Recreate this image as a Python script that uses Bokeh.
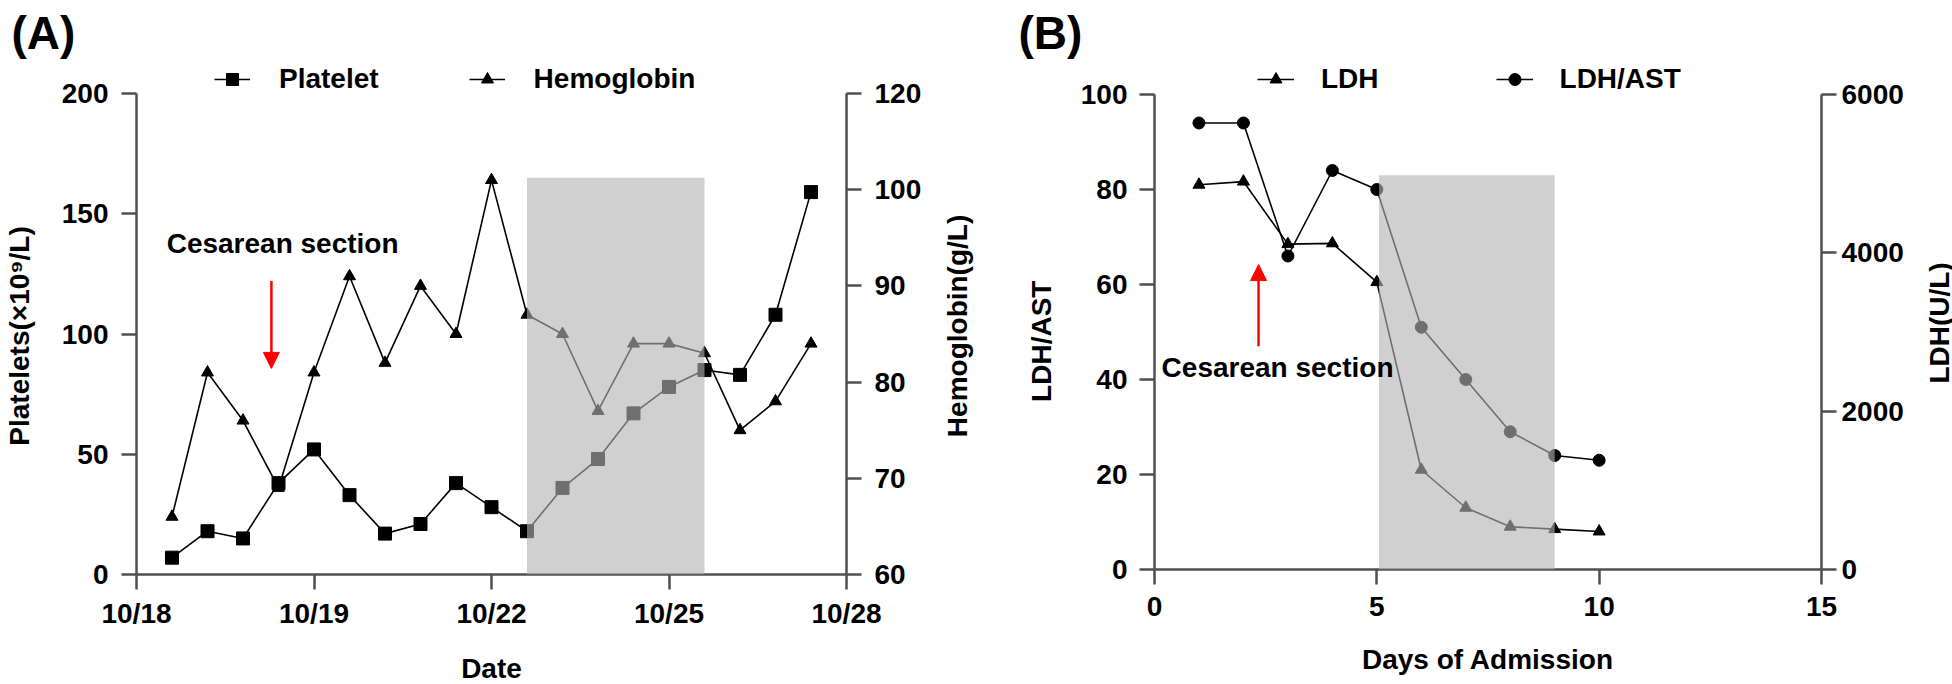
import math
from bokeh.plotting import figure
from bokeh.models import (Range1d, LinearAxis, FixedTicker, BoxAnnotation, Arrow,
                          NormalHead, Label, Legend, LegendItem)
from bokeh.layouts import row
from bokeh.embed import file_html
from bokeh.resources import INLINE

FONT = "Liberation Sans"
NBSP = "\u00a0"
PAGE_H = 684

# ---------------- Panel A data ----------------
a_x = list(range(1, 20))
platelets = [7, 18, 15, 38, 52, 33, 17, 21, 38, 28, 18, 36, 48, 67, 78, 85, 83, 108, 159]
hemoglobin = [66, 81, 76, 69, 81, 91, 82, 90, 85, 101, 87, 85, 77, 84, 84, 83, 75, 78, 84]
a_tick_pos = [0, 5, 10, 15, 20]
a_tick_labels = ["10/18", "10/19", "10/22", "10/25", "10/28"]
plt_ticks = [0, 50, 100, 150, 200]
hb_ticks = [60, 70, 80, 90, 100, 110]
hb_tick_labels = ["60", "70", "80", "90", "100", "120"]
a_shade = dict(left=11, right=16, bottom=0, top=165)
a_cesarean = dict(x=3.8, y_from=122, y_to=85.7, text_x=0.85, text_y=137.7)

# ---------------- Panel B data ----------------
b_days = list(range(1, 11))
ldh_ast = [94, 94, 66, 84, 80, 51, 40, 29, 24, 23]
ldh = [4860, 4900, 4110, 4120, 3630, 1260, 780, 540, 510, 480]
b_x_ticks = [0, 5, 10, 15]
ratio_ticks = [0, 20, 40, 60, 80, 100]
ldh_ticks = [0, 2000, 4000, 6000]
b_shade = dict(left=5.05, right=9.0, bottom=0, top=83)
b_cesarean = dict(x=2.34, y_from=47, y_to=64.2, text_x=0.16, text_y=42.6)

AXIS_COLOR = "#4f4f4f"
TOP = 58  # pixels above the drawing area kept for the panel letter


def style_axis(ax, tick_standoff, label_standoff):
    ax.axis_line_color = AXIS_COLOR
    ax.axis_line_width = 2.5
    ax.major_tick_line_color = AXIS_COLOR
    ax.major_tick_line_width = 2.5
    ax.major_tick_in = 0
    ax.major_tick_out = 15
    ax.minor_tick_line_color = None
    ax.major_label_text_font = FONT
    ax.major_label_text_font_style = "bold"
    ax.major_label_text_font_size = "28px"
    ax.major_label_text_color = "black"
    ax.major_label_standoff = tick_standoff
    ax.axis_label_text_font = FONT
    ax.axis_label_text_font_style = "bold"
    ax.axis_label_text_font_size = "28px"
    ax.axis_label_text_color = "black"
    ax.axis_label_standoff = label_standoff


def clean(p):
    p.grid.visible = False
    p.outline_line_color = None
    p.background_fill_color = "white"
    p.border_fill_color = "white"


def base_fig(fw, fh, xr, yr, bl, br, bb, title, title_offset):
    p = figure(frame_width=fw, frame_height=fh, x_range=xr, y_range=yr,
               output_backend="svg", toolbar_location=None,
               min_border_left=bl, min_border_right=br,
               min_border_top=TOP, min_border_bottom=bb, title=title)
    clean(p)
    p.title.text_font = FONT
    p.title.text_font_style = "bold"
    p.title.text_font_size = "46px"
    p.title.text_color = "black"
    p.title.align = "left"
    p.title.offset = title_offset
    p.title.standoff = 0
    return p


def side_title(width, text, cx, cy):
    """Narrow strip to the right of a panel holding its right-axis title (reads upward)."""
    s = figure(width=width, height=PAGE_H, x_range=Range1d(0, width),
               y_range=Range1d(0, PAGE_H), output_backend="svg", toolbar_location=None,
               min_border=0, x_axis_type=None, y_axis_type=None)
    clean(s)
    s.add_layout(Label(x=cx, y=PAGE_H - cy, text=text, angle=math.pi / 2,
                       text_align="center", text_baseline="middle", text_font=FONT,
                       text_font_style="bold", text_font_size="28px", text_color="black"))
    return s


def legend(items, loc, glyph_w, standoff, spacing):
    return Legend(items=items, location=loc, orientation="horizontal",
                  glyph_width=glyph_w, glyph_height=30, label_height=30,
                  label_standoff=standoff, spacing=spacing, padding=0, margin=0,
                  border_line_color=None, background_fill_alpha=0,
                  label_text_font=FONT, label_text_font_style="bold",
                  label_text_font_size="28px", label_text_color="black")


def shade(d):
    return BoxAnnotation(left=d["left"], right=d["right"], bottom=d["bottom"], top=d["top"],
                         fill_color="#b3b3b3", fill_alpha=0.62, line_color=None)


def cesarean(p, d):
    p.add_layout(Arrow(end=NormalHead(size=16, fill_color="red", line_color="red"),
                       x_start=d["x"], y_start=d["y_from"], x_end=d["x"], y_end=d["y_to"],
                       line_color="red", line_width=2.5))
    p.add_layout(Label(x=d["text_x"], y=d["text_y"], text="Cesarean section",
                       text_baseline="middle", text_font=FONT, text_font_style="bold",
                       text_font_size="28px", text_color="black"))


def vlabel(text, pad):
    # the drawing area reaches above the axes (room for the legend); trailing
    # no-break spaces keep the axis title centred on the axis itself
    return text + NBSP * pad


# ================= Panel A =================
A_AX, A_FH = 481, 516
a_left_top = plt_ticks[-1] * A_FH / A_AX
a_right_top = hb_ticks[0] + (hb_ticks[-1] - hb_ticks[0]) * A_FH / A_AX
pa = base_fig(710, A_FH, Range1d(0, 20), Range1d(0, a_left_top), 133, 95, 110, "(A)", -125)
pa.extra_y_ranges = {"hb": Range1d(hb_ticks[0], a_right_top)}

la = pa.line(a_x, platelets, line_color="black", line_width=1.6)
sa = pa.scatter(a_x, platelets, marker="square", size=13, color="black")
lh = pa.line(a_x, hemoglobin, y_range_name="hb", line_color="black", line_width=1.6)
sh = pa.scatter(a_x, hemoglobin, y_range_name="hb", marker="triangle", size=12, color="black")

pa.add_layout(shade(a_shade))

ax = pa.xaxis[0]
ax.ticker = FixedTicker(ticks=a_tick_pos)
ax.major_label_overrides = dict(zip(a_tick_pos, a_tick_labels))
ax.axis_label = "Date"
style_axis(ax, 8, 21)

ay = pa.yaxis[0]
ay.ticker = FixedTicker(ticks=plt_ticks)
ay.bounds = (plt_ticks[0], plt_ticks[-1])
ay.axis_label = vlabel("Platelets(×10⁹/L)", 5)
style_axis(ay, 13, 24)

ayr = LinearAxis(y_range_name="hb", ticker=FixedTicker(ticks=hb_ticks),
                 bounds=(hb_ticks[0], hb_ticks[-1]),
                 major_label_overrides=dict(zip(hb_ticks, hb_tick_labels)))
style_axis(ayr, 13, 0)
pa.add_layout(ayr, "right")

pa.add_layout(legend([LegendItem(label="Platelet", renderers=[la, sa]),
                      LegendItem(label="Hemoglobin", renderers=[lh, sh])],
                     (78, 479), 36, 29, 90))
cesarean(pa, a_cesarean)
ra = side_title(43, "Hemoglobin(g/L)", 16, 358)

# ================= Panel B =================
B_AX, B_FH = 475, 511
b_left_top = ratio_ticks[-1] * B_FH / B_AX
b_right_top = ldh_ticks[-1] * B_FH / B_AX
pb = base_fig(667, B_FH, Range1d(0, 15), Range1d(0, b_left_top), 170, 87, 115, "(B)", -136)
pb.extra_y_ranges = {"ldh": Range1d(0, b_right_top)}

lr = pb.line(b_days, ldh_ast, line_color="black", line_width=1.6)
sr = pb.scatter(b_days, ldh_ast, marker="circle", size=12, color="black")
ll = pb.line(b_days, ldh, y_range_name="ldh", line_color="black", line_width=1.6)
sl = pb.scatter(b_days, ldh, y_range_name="ldh", marker="triangle", size=12, color="black")

pb.add_layout(shade(b_shade))

bx = pb.xaxis[0]
bx.ticker = FixedTicker(ticks=b_x_ticks)
bx.axis_label = "Days of Admission"
style_axis(bx, 12, 25)

by = pb.yaxis[0]
by.ticker = FixedTicker(ticks=ratio_ticks)
by.bounds = (ratio_ticks[0], ratio_ticks[-1])
by.axis_label = vlabel("LDH/AST", 7)
style_axis(by, 12, 21)

byr = LinearAxis(y_range_name="ldh", ticker=FixedTicker(ticks=ldh_ticks),
                 bounds=(ldh_ticks[0], ldh_ticks[-1]))
style_axis(byr, 5, 0)
pb.add_layout(byr, "right")

pb.add_layout(legend([LegendItem(label="LDH", renderers=[ll, sl]),
                      LegendItem(label="LDH/AST", renderers=[lr, sr])],
                     (103, 474), 37, 27, 117))
cesarean(pb, b_cesarean)
rb = side_title(47, "LDH(U/L)", 31, 354)

layout = row(pa, ra, pb, rb)
open("out.html", "w").write(file_html(layout, INLINE))
